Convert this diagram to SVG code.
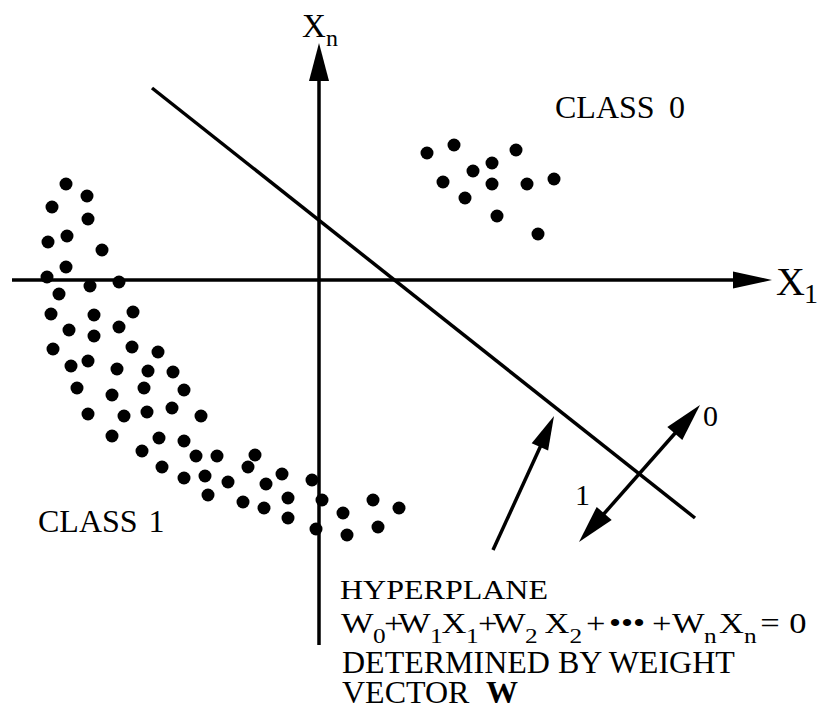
<svg xmlns="http://www.w3.org/2000/svg" width="817" height="711" viewBox="0 0 817 711">
<style>
  .ln { stroke: #000; stroke-width: 3.5; fill: none; stroke-linecap: butt; }
  .hd { fill: #000; stroke: none; }
  .dot { fill: #000; }
  text { font-family: "Liberation Serif", "Times New Roman", serif; fill: #000; }
  .lbl { font-size: 32px; }
  .sub { font-size: 22px; }
  .eq { font-size: 30px; }
</style>
<rect width="817" height="711" fill="#fff"/>
<g id="connectors">
  <g id="axis-x1">
    <line class="ln" x1="12" y1="280" x2="736" y2="280"/>
    <polygon class="hd" points="733,271.5 772,280 733,288.5"/>
  </g>
  <g id="axis-xn">
    <line class="ln" x1="319" y1="645" x2="319" y2="78"/>
    <polygon class="hd" points="309,81 319,43 329,81"/>
  </g>
  <g id="hyperplane-line">
    <line class="ln" x1="152" y1="88" x2="695" y2="518"/>
  </g>
  <g id="pointer-arrow">
    <line class="ln" x1="493" y1="550" x2="542" y2="443"/>
    <polygon class="hd" points="554,416 548.1,450.6 531.7,443.2"/>
  </g>
  <g id="class-arrow">
    <line class="ln" x1="677" y1="431" x2="602" y2="516"/>
    <polygon class="hd" points="700,405 682.3,440.1 667.3,426.9"/>
    <polygon class="hd" points="579,542 611.7,520.1 596.7,506.9"/>
  </g>
</g>
<g id="class1-points">
  <circle class="dot" cx="66" cy="184" r="6.5"/><circle class="dot" cx="87" cy="196" r="6.5"/>
  <circle class="dot" cx="52" cy="207" r="6.5"/><circle class="dot" cx="88" cy="219" r="6.5"/>
  <circle class="dot" cx="67" cy="236" r="6.5"/><circle class="dot" cx="48" cy="242" r="6.5"/>
  <circle class="dot" cx="102" cy="250" r="6.5"/><circle class="dot" cx="66" cy="267" r="6.5"/>
  <circle class="dot" cx="47" cy="277" r="6.5"/><circle class="dot" cx="90" cy="286" r="6.5"/>
  <circle class="dot" cx="119" cy="282" r="6.5"/><circle class="dot" cx="59" cy="294" r="6.5"/>
  <circle class="dot" cx="51" cy="314" r="6.5"/><circle class="dot" cx="94" cy="315" r="6.5"/>
  <circle class="dot" cx="133" cy="312" r="6.5"/><circle class="dot" cx="69" cy="330" r="6.5"/>
  <circle class="dot" cx="94" cy="336" r="6.5"/><circle class="dot" cx="119" cy="327" r="6.5"/>
  <circle class="dot" cx="53" cy="349" r="6.5"/><circle class="dot" cx="132" cy="347" r="6.5"/>
  <circle class="dot" cx="158" cy="352" r="6.5"/><circle class="dot" cx="71" cy="366" r="6.5"/>
  <circle class="dot" cx="88" cy="361" r="6.5"/><circle class="dot" cx="117" cy="369" r="6.5"/>
  <circle class="dot" cx="148" cy="371" r="6.5"/><circle class="dot" cx="173" cy="372" r="6.5"/>
  <circle class="dot" cx="77" cy="388" r="6.5"/><circle class="dot" cx="112" cy="395" r="6.5"/>
  <circle class="dot" cx="144" cy="388" r="6.5"/><circle class="dot" cx="184" cy="390" r="6.5"/>
  <circle class="dot" cx="88" cy="414" r="6.5"/><circle class="dot" cx="124" cy="416" r="6.5"/>
  <circle class="dot" cx="147" cy="412" r="6.5"/><circle class="dot" cx="172" cy="408" r="6.5"/>
  <circle class="dot" cx="201" cy="416" r="6.5"/><circle class="dot" cx="112" cy="436" r="6.5"/>
  <circle class="dot" cx="159" cy="438" r="6.5"/><circle class="dot" cx="184" cy="441" r="6.5"/>
  <circle class="dot" cx="142" cy="451" r="6.5"/><circle class="dot" cx="196" cy="456" r="6.5"/>
  <circle class="dot" cx="217" cy="456" r="6.5"/><circle class="dot" cx="162" cy="467" r="6.5"/>
  <circle class="dot" cx="184" cy="478" r="6.5"/><circle class="dot" cx="205" cy="476" r="6.5"/>
  <circle class="dot" cx="208" cy="495" r="6.5"/><circle class="dot" cx="255" cy="455" r="6.5"/>
  <circle class="dot" cx="248" cy="467" r="6.5"/><circle class="dot" cx="228" cy="482" r="6.5"/>
  <circle class="dot" cx="266" cy="484" r="6.5"/><circle class="dot" cx="282" cy="474" r="6.5"/>
  <circle class="dot" cx="312" cy="480" r="6.5"/><circle class="dot" cx="243" cy="502" r="6.5"/>
  <circle class="dot" cx="264" cy="508" r="6.5"/><circle class="dot" cx="288" cy="498" r="6.5"/>
  <circle class="dot" cx="288" cy="518" r="6.5"/><circle class="dot" cx="322" cy="500" r="6.5"/>
  <circle class="dot" cx="343" cy="513" r="6.5"/><circle class="dot" cx="373" cy="500" r="6.5"/>
  <circle class="dot" cx="399" cy="508" r="6.5"/><circle class="dot" cx="316" cy="529" r="6.5"/>
  <circle class="dot" cx="347" cy="535" r="6.5"/><circle class="dot" cx="378" cy="527" r="6.5"/>
</g>
<g id="class0-points">
  <circle class="dot" cx="427" cy="153" r="6.5"/><circle class="dot" cx="454" cy="145" r="6.5"/>
  <circle class="dot" cx="516" cy="150" r="6.5"/><circle class="dot" cx="492" cy="163" r="6.5"/>
  <circle class="dot" cx="473" cy="171" r="6.5"/><circle class="dot" cx="443" cy="182" r="6.5"/>
  <circle class="dot" cx="492" cy="184" r="6.5"/><circle class="dot" cx="527" cy="184" r="6.5"/>
  <circle class="dot" cx="554" cy="179" r="6.5"/><circle class="dot" cx="465" cy="198" r="6.5"/>
  <circle class="dot" cx="497" cy="216" r="6.5"/><circle class="dot" cx="538" cy="234" r="6.5"/>
</g>
<g id="label-xn">
  <text x="302" y="37" font-size="33">X<tspan x="326" y="46" font-size="24">n</tspan></text>
</g>
<g id="label-x1">
  <text x="776" y="295" font-size="40">X<tspan x="804" y="303" font-size="28">1</tspan></text>
</g>
<g id="label-class0">
  <text class="lbl" x="555" y="118">CLASS<tspan x="669">0</tspan></text>
</g>
<g id="label-class1">
  <text class="lbl" x="38" y="532">CLASS<tspan x="148.5">1</tspan></text>
</g>
<g id="label-arrow">
  <text x="703" y="426" font-size="30">0</text>
  <text x="575" y="505" font-size="30">1</text>
</g>
<g id="hyperplane-text">
  <text x="340" y="599" font-size="28" textLength="208" lengthAdjust="spacingAndGlyphs">HYPERPLANE</text>
  <g transform="translate(341 0) scale(1.15 1)">
    <text class="eq" y="633"><tspan x="0" y="633">W</tspan><tspan class="sub" x="27.8" y="643">0</tspan><tspan x="37.5" y="633">+</tspan><tspan x="49.6" y="633">W</tspan><tspan class="sub" x="77.4" y="643">1</tspan><tspan x="87.5" y="633">X</tspan><tspan class="sub" x="108.6" y="643">1</tspan><tspan x="119.2" y="633">+</tspan><tspan x="132.2" y="633">W</tspan><tspan class="sub" x="160" y="643">2</tspan><tspan x="177" y="633">X</tspan><tspan class="sub" x="198.6" y="643">2</tspan><tspan x="213" y="633">+</tspan><tspan x="233" y="633">•••</tspan><tspan x="270.5" y="633">+</tspan><tspan x="287.8" y="633">W</tspan><tspan class="sub" x="315.6" y="643">n</tspan><tspan x="328.8" y="633">X</tspan><tspan class="sub" x="350.4" y="643">n</tspan><tspan x="364.5" y="633">=</tspan><tspan x="389.7" y="633">0</tspan></text>
  </g>
  <text class="lbl" x="342" y="673">DETERMINED BY WEIGHT</text>
  <text class="lbl" x="342" y="703">VECTOR<tspan x="486" font-weight="bold">W</tspan></text>
</g>
</svg>
